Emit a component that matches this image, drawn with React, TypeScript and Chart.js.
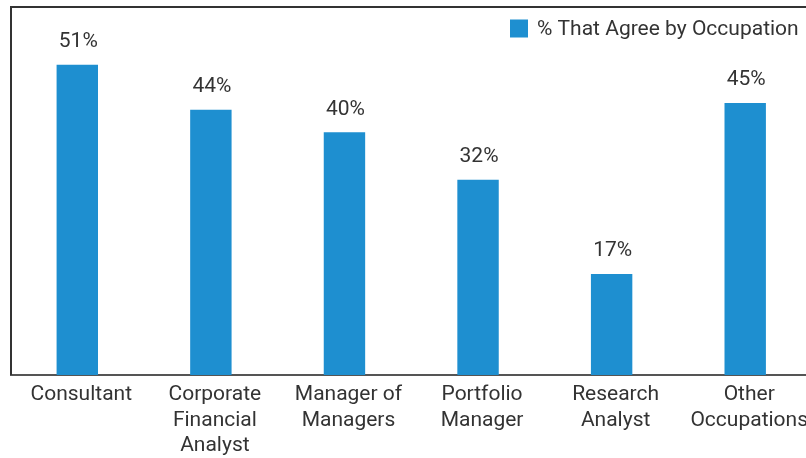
import React, { useEffect, useRef } from "react";
import { Chart, registerables } from "chart.js";

Chart.register(...registerables);

const categories: (string | string[])[] = [
  "Consultant",
  ["Corporate", "Financial", "Analyst"],
  ["Manager of", "Managers"],
  ["Portfolio", "Manager"],
  ["Research", "Analyst"],
  ["Other", "Occupations"],
];
const seriesLabel = "% That Agree by Occupation";
const agreeValues = [51, 43.6, 39.9, 32.1, 16.6, 44.7];
const yMin = 0;
const yMax = 60;

const BAR_COLOR = "#1e8fd0";
const TEXT_COLOR = "#333333";
const FONT = "Roboto, 'Noto Sans', sans-serif";

const framePlugin = {
  id: "frame",
  afterDraw(chart: any) {
    const ctx = chart.ctx;
    const a = chart.chartArea;
    ctx.save();
    ctx.strokeStyle = "#333333";
    ctx.lineWidth = 2;
    ctx.beginPath();
    ctx.moveTo(11, a.bottom);
    ctx.lineTo(11, 7);
    ctx.lineTo(chart.width, 7);
    ctx.stroke();
    ctx.restore();
  },
};

const labelsPlugin = {
  id: "valueLabels",
  afterDatasetsDraw(chart: any) {
    const ctx = chart.ctx;
    const meta = chart.getDatasetMeta(0);
    const data = chart.data.datasets[0].data as number[];
    ctx.save();
    ctx.fillStyle = TEXT_COLOR;
    ctx.font = `21px ${FONT}`;
    ctx.textAlign = "center";
    ctx.textBaseline = "middle";
    meta.data.forEach((bar: any, i: number) => {
      ctx.fillText(`${Math.round(data[i])}%`, bar.x + 1, bar.y - 23);
    });
    ctx.restore();
  },
};

const legendPlugin = {
  id: "customLegend",
  afterDraw(chart: any) {
    const ctx = chart.ctx;
    const ds = chart.data.datasets[0];
    ctx.save();
    ctx.fillStyle = ds.backgroundColor;
    ctx.fillRect(510, 19.5, 18, 18);
    ctx.fillStyle = TEXT_COLOR;
    ctx.font = `21px ${FONT}`;
    ctx.textAlign = "left";
    ctx.textBaseline = "middle";
    ctx.fillText(ds.label, 537, 29.5);
    ctx.restore();
  },
};

export default function App() {
  const canvasRef = useRef<HTMLCanvasElement | null>(null);

  useEffect(() => {
    if (!canvasRef.current) return;
    const chart = new Chart(canvasRef.current, {
      type: "bar",
      data: {
        labels: categories,
        datasets: [
          {
            label: seriesLabel,
            data: agreeValues,
            backgroundColor: BAR_COLOR,
            categoryPercentage: 1,
            barPercentage: 0.31,
          },
        ],
      },
      options: {
        animation: false,
        responsive: false,
        layout: { padding: { left: 10.5, right: 4, top: 10, bottom: 0 } },
        plugins: {
          legend: { display: false },
          tooltip: { enabled: false },
        },
        scales: {
          x: {
            grid: { display: false, drawTicks: false },
            border: { display: true, color: "#555555", width: 2 },
            ticks: {
              color: TEXT_COLOR,
              font: { family: FONT, size: 21, lineHeight: 1.215 },
              padding: 7,
              labelOffset: 4,
              maxRotation: 0,
              autoSkip: false,
            },
            afterFit: (s: any) => {
              s.height = 83;
            },
          },
          y: {
            display: false,
            min: yMin,
            max: yMax,
          },
        },
      },
      plugins: [framePlugin, labelsPlugin, legendPlugin],
    });
    return () => chart.destroy();
  }, []);

  return (
    <div
      style={{
        position: "fixed",
        left: 0,
        top: 0,
        width: 806,
        height: 458,
        overflow: "hidden",
        background: "#ffffff",
      }}
    >
      <canvas
        ref={canvasRef}
        width={816}
        height={458}
        style={{ width: 816, height: 458, display: "block" }}
      />
    </div>
  );
}
